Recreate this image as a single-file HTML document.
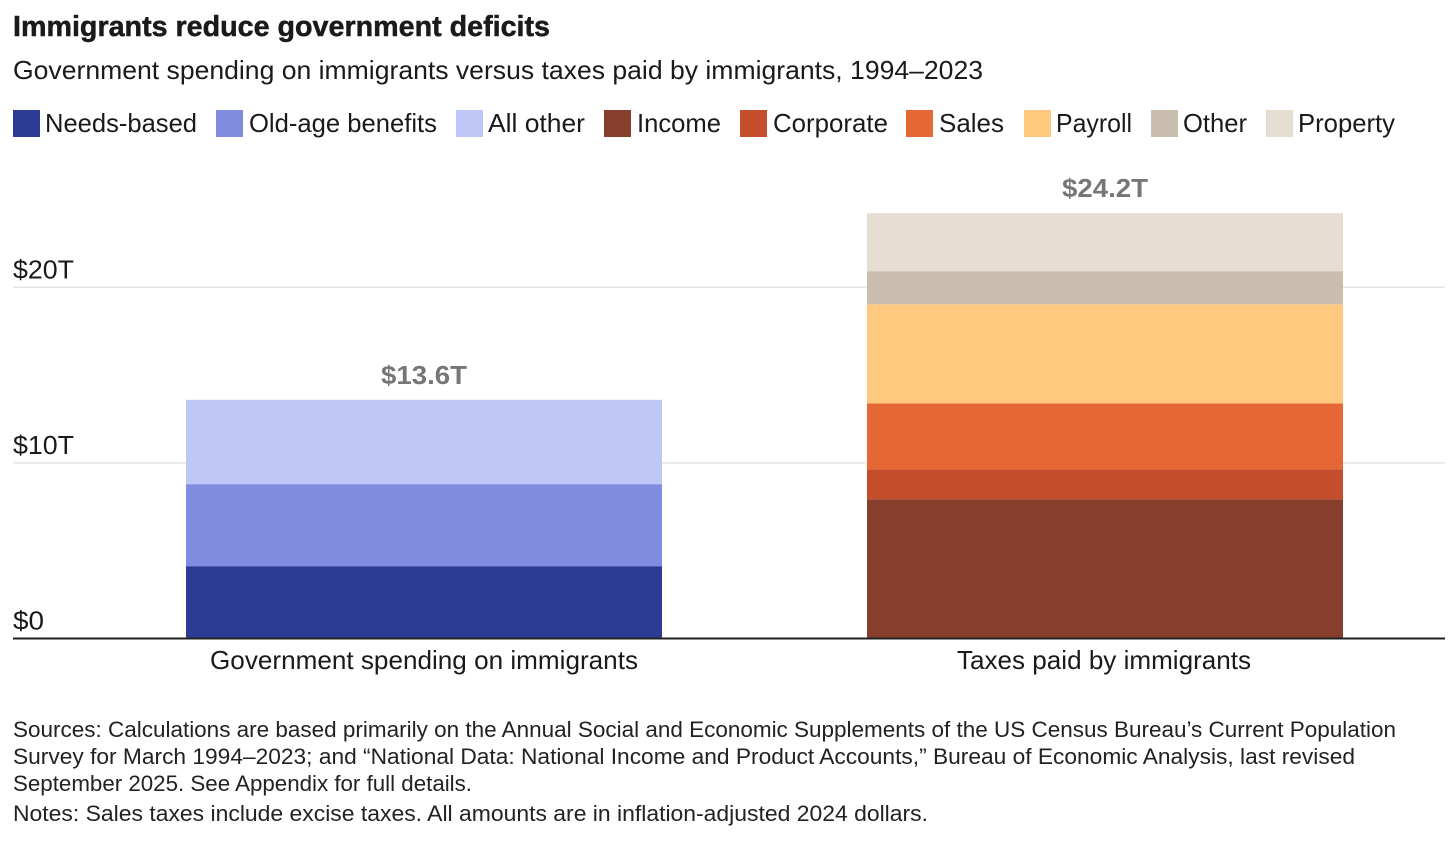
<!DOCTYPE html>
<html lang="en">
<head>
<meta charset="utf-8">
<title>Immigrants reduce government deficits</title>
<style>
html,body{margin:0;padding:0;background:#fff;width:1456px;height:845px;overflow:hidden}
svg{display:block}
text{font-family:"Liberation Sans",Arial,sans-serif;fill:#1a1a1a}
.legend-text{font-size:26px}
.footer{font-size:22px;fill:#222}
.s-needs-based{fill:#2c3c94}
.s-old-age{fill:#7f8ce0}
.s-all-other{fill:#bfc7f7}
.s-income{fill:#873e2d}
.s-corporate{fill:#c44e2b}
.s-sales{fill:#e56736}
.s-payroll{fill:#fec87f}
.s-other{fill:#c9bdae}
.s-property{fill:#e6ddd3}
</style>
</head>
<body>
<svg id="chart" width="1456" height="845" viewBox="0 0 1456 845" xmlns="http://www.w3.org/2000/svg">
  <text x="13" y="36" font-size="29" font-weight="700" stroke="#1a1a1a" stroke-width="0.5" textLength="537" lengthAdjust="spacingAndGlyphs">Immigrants reduce government deficits</text>
  <text x="13" y="79" font-size="26" textLength="970" lengthAdjust="spacingAndGlyphs">Government spending on immigrants versus taxes paid by immigrants, 1994–2023</text>

  <g>
    <g><rect class="s-needs-based" x="13" y="110" width="27" height="27"/><text class="legend-text" x="45" y="132" textLength="152" lengthAdjust="spacingAndGlyphs">Needs-based</text></g>
    <g><rect class="s-old-age" x="216" y="110" width="27" height="27"/><text class="legend-text" x="249" y="132" textLength="188" lengthAdjust="spacingAndGlyphs">Old-age benefits</text></g>
    <g><rect class="s-all-other" x="456" y="110" width="27" height="27"/><text class="legend-text" x="488" y="132" textLength="97" lengthAdjust="spacingAndGlyphs">All other</text></g>
    <g><rect class="s-income" x="604" y="110" width="27" height="27"/><text class="legend-text" x="637" y="132" textLength="84" lengthAdjust="spacingAndGlyphs">Income</text></g>
    <g><rect class="s-corporate" x="740" y="110" width="27" height="27"/><text class="legend-text" x="773" y="132" textLength="115" lengthAdjust="spacingAndGlyphs">Corporate</text></g>
    <g><rect class="s-sales" x="906" y="110" width="27" height="27"/><text class="legend-text" x="939" y="132" textLength="65" lengthAdjust="spacingAndGlyphs">Sales</text></g>
    <g><rect class="s-payroll" x="1024" y="110" width="27" height="27"/><text class="legend-text" x="1056" y="132" textLength="76" lengthAdjust="spacingAndGlyphs">Payroll</text></g>
    <g><rect class="s-other" x="1151" y="110" width="27" height="27"/><text class="legend-text" x="1183" y="132" textLength="64" lengthAdjust="spacingAndGlyphs">Other</text></g>
    <g><rect class="s-property" x="1266" y="110" width="27" height="27"/><text class="legend-text" x="1298" y="132" textLength="97" lengthAdjust="spacingAndGlyphs">Property</text></g>
  </g>

  <g id="grid"></g>
  <g id="ticks"></g>
  <g id="bars"></g>
  <line x1="13" x2="1445" y1="638.5" y2="638.5" stroke="#222" stroke-width="2"/>
  <g id="xlabels"></g>

  <g>
    <text class="footer" x="13" y="737" textLength="1383" lengthAdjust="spacingAndGlyphs">Sources: Calculations are based primarily on the Annual Social and Economic Supplements of the US Census Bureau’s Current Population</text>
    <text class="footer" x="13" y="764" textLength="1342" lengthAdjust="spacingAndGlyphs">Survey for March 1994–2023; and “National Data: National Income and Product Accounts,” Bureau of Economic Analysis, last revised</text>
    <text class="footer" x="13" y="791" textLength="459" lengthAdjust="spacingAndGlyphs">September 2025. See Appendix for full details.</text>
    <text class="footer" x="13" y="821" textLength="915" lengthAdjust="spacingAndGlyphs">Notes: Sales taxes include excise taxes. All amounts are in inflation-adjusted 2024 dollars.</text>
  </g>
</svg>
<script>
const categories = ["Government spending on immigrants", "Taxes paid by immigrants"];
const spendingSeries = ["needs-based", "old-age", "all-other"];
const spendingValues = [4.12, 4.67, 4.8];
const taxSeries = ["income", "corporate", "sales", "payroll", "other", "property"];
const taxValues = [7.93, 1.7, 3.76, 5.64, 1.89, 3.3];
const totalLabels = ["$13.6T", "$24.2T"];
const tickValues = [0, 10, 20];
const tickLabels = ["$0", "$10T", "$20T"];

const NS = "http://www.w3.org/2000/svg";
const yZero = 638.5, pxPerUnit = 17.56;
const firstCenter = 424, step = 681, barWidth = 476;
const categoryTextWidths = [428, 294];
const tickTextWidths = [31, 61, 61];

function yScale(v) { return yZero - v * pxPerUnit; }
function xCenter(i) { return firstCenter + step * i; }
function make(tag, attrs, parent) {
  const el = document.createElementNS(NS, tag);
  for (const k in attrs) el.setAttribute(k, attrs[k]);
  parent.appendChild(el);
  return el;
}

const grid = document.getElementById("grid");
const ticks = document.getElementById("ticks");
tickValues.forEach(function (v, i) {
  if (v !== 0) {
    const line = make("line", {x1: 13, x2: 1445, y1: yScale(v), y2: yScale(v), stroke: "#e4e4e4", "stroke-width": 1.5}, grid);
    
    
  }
  const t = make("text", {x: 13, y: yScale(v) - 9, "font-size": 26, textLength: tickTextWidths[i], lengthAdjust: "spacingAndGlyphs"}, ticks);
  
  
  t.textContent = tickLabels[i];
});

const bars = document.getElementById("bars");
function drawStack(catIndex, names, values) {
  let running = 0;
  const left = xCenter(catIndex) - barWidth / 2;
  values.forEach(function (v, i) {
    const top = yScale(running + v);
    const bottom = yScale(running);
    const r = make("rect", {class: "s-" + names[i], x: left, y: top, width: barWidth, height: bottom - top}, bars);
    
    
    running += v;
  });
  const label = make("text", {x: xCenter(catIndex), y: yScale(running) - 16, "text-anchor": "middle", "font-size": 26, "font-weight": 700, style: "fill:#767676", textLength: 86, lengthAdjust: "spacingAndGlyphs"}, bars);
  
  
  label.textContent = totalLabels[catIndex];
}
drawStack(0, spendingSeries, spendingValues);
drawStack(1, taxSeries, taxValues);

const xlabels = document.getElementById("xlabels");
categories.forEach(function (c, i) {
  const t = make("text", {x: xCenter(i) - i, y: 669, "text-anchor": "middle", "font-size": 26, textLength: categoryTextWidths[i], lengthAdjust: "spacingAndGlyphs"}, xlabels);
  
  
  t.textContent = c;
});
</script>
</body>
</html>
